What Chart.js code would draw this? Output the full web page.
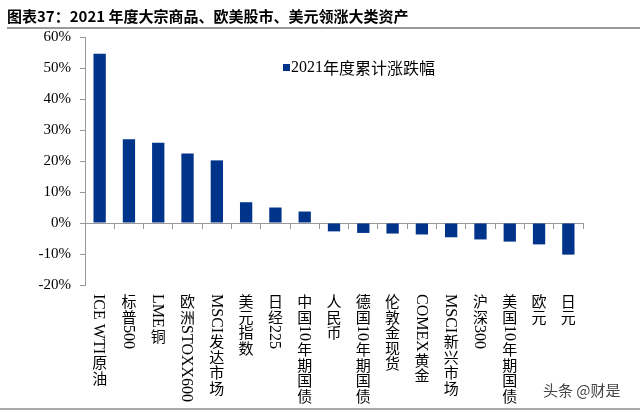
<!DOCTYPE html>
<html>
<head>
<meta charset="utf-8">
<script src="https://cdn.jsdelivr.net/npm/chart.js@4"></script>
<style>
    body { margin: 0; background: #fff; }
    #wrap { position: relative; width: 640px; height: 413px; overflow: hidden; }
    #chart { position: absolute; left: 0; top: 0; }
    .title { position: absolute; left: 7px; top: 5px; font: bold 15px "Noto Sans CJK SC", sans-serif; color: #000; white-space: nowrap; }
    .rule { position: absolute; left: 7px; right: 0; background: #999; }
    .rule.top { top: 27px; height: 1.5px; }
    .rule.bottom { left: 0; top: 408px; height: 2px; background: #aaa; }
    .mark { position: absolute; left: 543px; top: 379px; font: 15px "Noto Sans CJK SC", sans-serif; color: #444; white-space: nowrap; }
</style>
</head>
<body>
<div id="wrap">
    <canvas id="chart"></canvas>
    <div class="title">图表37：2021 年度大宗商品、欧美股市、美元领涨大类资产</div>
    <div class="rule top"></div>
    <div class="mark">头条 @财是</div>
    <div class="rule bottom"></div>
</div>
<script>
// Data
const assetNames = ['ICE WTI原油', '标普500', 'LME铜', '欧洲STOXX600', 'MSCI发达市场', '美元指数', '日经225',
    '中国10年期国债', '人民币', '德国10年期国债', '伦敦金现货', 'COMEX黄金', 'MSCI新兴市场', '沪深300',
    '美国10年期国债', '欧元', '日元'];
const yearChange = [54.6, 27.0, 25.9, 22.4, 20.2, 6.7, 5.0, 3.7, -2.7, -3.2, -3.4, -3.7, -4.6, -5.3, -6.0, -6.9, -10.2];
const seriesName = '2021年度累计涨跌幅';
const yTicks = [-20, -10, 0, 10, 20, 30, 40, 50, 60];

const barColor = '#00338A';
const axisColor = '#999';
const latinFont = '16px "Liberation Serif", serif';
const cjkFont = '15px "Noto Sans CJK SC", sans-serif';

// Draws category labels vertically: CJK upright and stacked, latin runs turned clockwise
const verticalLabels = {
    id: 'verticalLabels',
    afterDraw(chart) {
        const ctx = chart.ctx;
        const xScale = chart.scales.x;
        ctx.save();
        ctx.fillStyle = '#000';
        chart.data.labels.forEach((label, i) => {
            const x = xScale.getPixelForValue(i);
            let y = 294;
            const runs = label.match(/[\x20-\x7E]+|[^\x20-\x7E]/g);
            runs.forEach(run => {
                if (/^[\x20-\x7E]+$/.test(run)) {
                    ctx.font = latinFont;
                    ctx.save();
                    ctx.translate(x, y);
                    ctx.rotate(Math.PI / 2);
                    ctx.textAlign = 'left';
                    ctx.textBaseline = 'middle';
                    ctx.fillText(run, 0, 1);
                    ctx.restore();
                    y += ctx.measureText(run).width + 1;
                } else {
                    ctx.font = cjkFont;
                    ctx.textAlign = 'center';
                    ctx.textBaseline = 'top';
                    ctx.fillText(run, x, y);
                    y += 15.5;
                }
            });
        });

        // legend box inside the plot
        ctx.fillStyle = barColor;
        ctx.fillRect(283, 64, 7, 7);
        ctx.fillStyle = '#000';
        ctx.textAlign = 'left';
        ctx.textBaseline = 'middle';
        const text = chart.data.datasets[0].label;
        let lx = 291;
        text.match(/[\x20-\x7E]+|[^\x20-\x7E]+/g).forEach(run => {
            ctx.font = /^[\x20-\x7E]+$/.test(run) ? '16px "Liberation Serif", serif' : '16px "Noto Sans CJK SC", sans-serif';
            ctx.fillText(run, lx, 68);
            lx += ctx.measureText(run).width;
        });
        ctx.restore();
    }
};

function initChart() {
    const ctx = document.getElementById('chart').getContext('2d');
    new Chart(ctx, {
        type: 'bar',
        data: {
            labels: assetNames,
            datasets: [{
                label: seriesName,
                data: yearChange,
                backgroundColor: barColor,
                barPercentage: 0.42,
                categoryPercentage: 1.0
            }]
        },
        options: {
            responsive: true,
            maintainAspectRatio: false,
            animation: false,
            layout: { padding: { top: 37, right: 57, bottom: 128, left: 0 } },
            plugins: {
                legend: { display: false },
                tooltip: { enabled: false }
            },
            scales: {
                x: {
                    position: { y: 0 },
                    offset: true,
                    ticks: { display: false },
                    grid: { offset: true, drawOnChartArea: false, drawTicks: true, tickLength: 5, color: axisColor },
                    border: { color: axisColor, width: 1 }
                },
                y: {
                    min: yTicks[0],
                    max: yTicks[yTicks.length - 1],
                    afterBuildTicks: scale => { scale.ticks = yTicks.map(v => ({ value: v })); },
                    afterFit: scale => { scale.width = 85; },
                    ticks: {
                        callback: v => v + '%',
                        color: '#000',
                        padding: 9,
                        font: { family: '"Liberation Serif", serif', size: 15 }
                    },
                    grid: { drawOnChartArea: false, drawTicks: true, tickLength: 5, color: axisColor },
                    border: { color: axisColor, width: 1 }
                }
            }
        },
        plugins: [verticalLabels]
    });
}

document.addEventListener('DOMContentLoaded', initChart);
</script>
</body>
</html>
